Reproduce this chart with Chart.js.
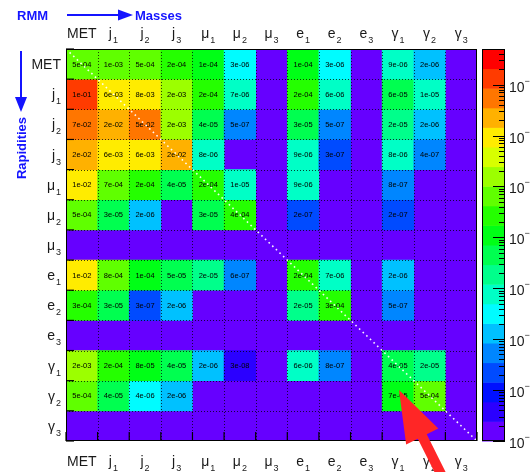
<!DOCTYPE html>
<html>
<head>
<meta charset="utf-8">
<script src="https://cdn.jsdelivr.net/npm/chart.js@4.4.1/dist/chart.umd.min.js"></script>
<style>
  html, body { margin: 0; padding: 0; background: #fff; overflow: hidden; }
  #wrap { width: 530px; height: 472px; position: relative; }
</style>
</head>
<body>
<div id="wrap"><canvas id="rmm" width="530" height="472"></canvas></div>
<script>
// Object names (letter + index) used on both axes of the rapidity-mass matrix
const objectNames = ['MET', 'j', 'j', 'j', 'μ', 'μ', 'μ', 'e', 'e', 'e', 'γ', 'γ', 'γ'];
const objectIndex = ['', '1', '2', '3', '1', '2', '3', '1', '2', '3', '1', '2', '3'];

// Matrix rows (0 = empty cell), columns in the same order as objectNames
const rowMET = [5e-4, 1e-3, 5e-4, 2e-4, 1e-4, 3e-6, 0, 1e-4, 3e-6, 0, 9e-6, 2e-6, 0];
const rowJ1  = [1e-1, 6e-3, 8e-3, 2e-3, 2e-4, 7e-6, 0, 2e-4, 6e-6, 0, 6e-5, 1e-5, 0];
const rowJ2  = [7e-2, 2e-2, 5e-2, 2e-3, 4e-5, 5e-7, 0, 3e-5, 5e-7, 0, 2e-5, 2e-6, 0];
const rowJ3  = [2e-2, 6e-3, 6e-3, 2e-2, 8e-6, 0, 0, 9e-6, 3e-7, 0, 8e-6, 4e-7, 0];
const rowMu1 = [1e-2, 7e-4, 2e-4, 4e-5, 2e-4, 1e-5, 0, 9e-6, 0, 0, 8e-7, 0, 0];
const rowMu2 = [5e-4, 3e-5, 2e-6, 0, 3e-5, 4e-4, 0, 2e-7, 0, 0, 2e-7, 0, 0];
const rowMu3 = [0, 0, 0, 0, 0, 0, 0, 0, 0, 0, 0, 0, 0];
const rowE1  = [1e-2, 8e-4, 1e-4, 5e-5, 2e-5, 6e-7, 0, 2e-4, 7e-6, 0, 2e-6, 0, 0];
const rowE2  = [3e-4, 3e-5, 3e-7, 2e-6, 0, 0, 0, 2e-5, 3e-4, 0, 5e-7, 0, 0];
const rowE3  = [0, 0, 0, 0, 0, 0, 0, 0, 0, 0, 0, 0, 0];
const rowG1  = [2e-3, 2e-4, 8e-5, 4e-5, 2e-6, 3e-8, 0, 6e-6, 8e-7, 0, 4e-5, 2e-5, 0];
const rowG2  = [5e-4, 4e-5, 4e-6, 2e-6, 0, 0, 0, 0, 0, 0, 7.4e-5, 5e-4, 0];
const rowG3  = [0, 0, 0, 0, 0, 0, 0, 0, 0, 0, 0, 0, 0];

const rows = [rowMET, rowJ1, rowJ2, rowJ3, rowMu1, rowMu2, rowMu3,
              rowE1, rowE2, rowE3, rowG1, rowG2, rowG3];

// Colour axis range (log scale) and number of palette bands
const Z_MIN = 1e-8;
const Z_MAX = 0.5;
const N_BANDS = 20;
const colourTickExponents = [-8, -7, -6, -5, -4, -3, -2, -1];

const categories = objectNames.map((n, i) => n + objectIndex[i]);

// Rainbow palette: violet (low) -> red (high)
const palette = Array.from({ length: N_BANDS }, (_, i) =>
  `hsl(${(264 * (1 - i / (N_BANDS - 1))).toFixed(1)}, 100%, 50%)`);

function bandOf(v) {
  const lo = Math.log10(Z_MIN), hi = Math.log10(Z_MAX);
  const t = (Math.log10(v) - lo) / (hi - lo);
  return Math.max(0, Math.min(N_BANDS - 1, Math.floor(t * N_BANDS)));
}
function colourFor(v) { return v > 0 ? palette[bandOf(v)] : 'rgba(0,0,0,0)'; }
function fmt(v) {
  const [m, e] = v.toExponential(0).split('e');
  const n = parseInt(e, 10);
  return m + 'e' + (n < 0 ? '-' : '+') + String(Math.abs(n)).padStart(2, '0');
}

const BLUE = '#1414ff';
const FONT = "'Liberation Sans', 'DejaVu Sans', sans-serif";

// Label with a small lowered index; align = 'center' | 'right'
function drawIndexed(ctx, name, idx, x, y, align, size) {
  ctx.font = `${size}px ${FONT}`;
  const w1 = ctx.measureText(name).width;
  ctx.font = `${Math.round(size * 0.62)}px ${FONT}`;
  const w2 = idx ? ctx.measureText(idx).width + 1 : 0;
  const total = w1 + w2;
  const x0 = align === 'center' ? x - total / 2 : x - total;
  ctx.textAlign = 'left';
  ctx.textBaseline = 'alphabetic';
  ctx.font = `${size}px ${FONT}`;
  ctx.fillText(name, x0, y);
  if (idx) {
    ctx.font = `${Math.round(size * 0.62)}px ${FONT}`;
    ctx.fillText(idx, x0 + w1 + 1, y + 5);
  }
}

const matrixPlugin = {
  id: 'matrixDecor',
  beforeDatasetsDraw(chart) {
    const { ctx, chartArea: a } = chart;
    ctx.save();
    ctx.fillStyle = palette[0];
    ctx.fillRect(a.left, a.top, a.right - a.left, a.bottom - a.top);
    ctx.restore();
  },
  afterDatasetsDraw(chart) {
    const { ctx, chartArea: a, scales } = chart;
    const xs = scales.x, ys = scales.y;
    ctx.save();

    // dotted grid at cell boundaries
    ctx.strokeStyle = 'rgba(0,0,0,0.75)';
    ctx.lineWidth = 1;
    ctx.setLineDash([1, 2]);
    for (let i = 1; i < categories.length; i++) {
      const x = Math.round((xs.getPixelForValue(i - 1) + xs.getPixelForValue(i)) / 2) + 0.5;
      ctx.beginPath(); ctx.moveTo(x, a.top); ctx.lineTo(x, a.bottom); ctx.stroke();
      const y = Math.round(ys.getPixelForValue(i)) + 0.5;
      ctx.beginPath(); ctx.moveTo(a.left, y); ctx.lineTo(a.right, y); ctx.stroke();
    }

    // cell values
    ctx.setLineDash([]);
    ctx.fillStyle = '#000';
    ctx.font = `7.5px ${FONT}`;
    ctx.textAlign = 'center';
    ctx.textBaseline = 'middle';
    rows.forEach((vals, r) => {
      const meta = chart.getDatasetMeta(r);
      vals.forEach((v, c) => {
        if (!(v > 0)) return;
        const el = meta.data[c];
        ctx.fillText(fmt(v), el.x, (el.y + el.base) / 2 + 0.5);
      });
    });

    // diagonal
    ctx.strokeStyle = 'rgba(255,255,255,0.95)';
    ctx.lineWidth = 1.6;
    ctx.setLineDash([1.6, 3.4]);
    ctx.beginPath(); ctx.moveTo(a.left, a.top); ctx.lineTo(a.right, a.bottom); ctx.stroke();
    ctx.setLineDash([]);

    // frame and bin-edge ticks
    ctx.strokeStyle = '#000';
    ctx.lineWidth = 1;
    ctx.strokeRect(a.left + 0.5, a.top + 0.5, a.right - a.left - 1, a.bottom - a.top - 1);
    ctx.lineWidth = 1.2;
    for (let i = 0; i <= categories.length; i++) {
      const x = i === 0 ? a.left : i === categories.length ? a.right :
        (xs.getPixelForValue(i - 1) + xs.getPixelForValue(i)) / 2;
      ctx.beginPath(); ctx.moveTo(x, a.bottom); ctx.lineTo(x, a.bottom - 9); ctx.stroke();
      const y = ys.getPixelForValue(i);
      ctx.beginPath(); ctx.moveTo(a.left, y); ctx.lineTo(a.left + 8, y); ctx.stroke();
    }
    ctx.restore();
  },
  afterDraw(chart) {
    const { ctx, chartArea: a, scales } = chart;
    const xs = scales.x, ys = scales.y, zs = scales.z;
    ctx.save();

    // axis labels
    ctx.fillStyle = '#1a1a1a';
    categories.forEach((_, i) => {
      const cx = xs.getPixelForValue(i);
      drawIndexed(ctx, objectNames[i], objectIndex[i], cx, 38, 'center', 14);
      drawIndexed(ctx, objectNames[i], objectIndex[i], cx, 466, 'center', 14);
      const cy = (ys.getPixelForValue(i) + ys.getPixelForValue(i + 1)) / 2;
      drawIndexed(ctx, objectNames[i], objectIndex[i], 61, cy + 5, 'right', 14);
    });

    // colour bar
    const bx0 = 482, bx1 = 505;
    const lo = Math.log10(Z_MIN), hi = Math.log10(Z_MAX);
    for (let k = 0; k < N_BANDS; k++) {
      const yb = zs.getPixelForValue(Math.pow(10, lo + (hi - lo) * k / N_BANDS));
      const yt = zs.getPixelForValue(Math.pow(10, lo + (hi - lo) * (k + 1) / N_BANDS));
      ctx.fillStyle = palette[k];
      ctx.fillRect(bx0, yt, bx1 - bx0, yb - yt + 0.5);
    }
    ctx.strokeStyle = '#000';
    ctx.lineWidth = 1;
    ctx.strokeRect(bx0 + 0.5, zs.getPixelForValue(Z_MAX) + 0.5, bx1 - bx0 - 1,
      zs.getPixelForValue(Z_MIN) - zs.getPixelForValue(Z_MAX) - 1);
    for (let e = -8; e <= 0; e++) {
      for (let m = 1; m <= 9; m++) {
        const v = m * Math.pow(10, e);
        if (v < Z_MIN || v > Z_MAX) continue;
        const y = Math.round(zs.getPixelForValue(v)) + 0.5;
        const len = m === 1 ? 12 : 6;
        ctx.beginPath(); ctx.moveTo(bx1, y); ctx.lineTo(bx1 - len, y); ctx.stroke();
      }
    }
    ctx.fillStyle = '#1a1a1a';
    ctx.textBaseline = 'alphabetic';
    colourTickExponents.forEach(e => {
      const y = zs.getPixelForValue(Math.pow(10, e));
      ctx.font = `14px ${FONT}`;
      ctx.textAlign = 'left';
      ctx.fillText('10', 509, y + 7);
      const w = ctx.measureText('10').width;
      ctx.font = `9px ${FONT}`;
      ctx.fillText('\u2212' + Math.abs(e), 509 + w, y - 1);
    });

    // titles with arrows
    ctx.fillStyle = BLUE;
    ctx.strokeStyle = BLUE;
    ctx.font = `bold 13px ${FONT}`;
    ctx.textAlign = 'left';
    ctx.fillText('RMM', 17, 20);
    ctx.fillText('Masses', 135, 20);
    ctx.lineWidth = 2;
    ctx.beginPath(); ctx.moveTo(67, 15); ctx.lineTo(121, 15); ctx.stroke();
    ctx.beginPath(); ctx.moveTo(118, 9.5); ctx.lineTo(133, 15); ctx.lineTo(118, 20.5); ctx.closePath(); ctx.fill();
    ctx.beginPath(); ctx.moveTo(21, 51); ctx.lineTo(21, 100); ctx.stroke();
    ctx.beginPath(); ctx.moveTo(15, 97); ctx.lineTo(21, 112); ctx.lineTo(27, 97); ctx.closePath(); ctx.fill();
    ctx.save();
    ctx.translate(26, 148);
    ctx.rotate(-Math.PI / 2);
    ctx.textAlign = 'center';
    ctx.fillText('Rapidities', 0, 0);
    ctx.restore();

    // red pointer arrow
    const tip = [399, 390], tail = [449, 490];
    const dx = tail[0] - tip[0], dy = tail[1] - tip[1];
    const L = Math.hypot(dx, dy), ux = dx / L, uy = dy / L, px = -uy, py = ux;
    const hb = [tip[0] + 52 * ux, tip[1] + 52 * uy];
    ctx.fillStyle = '#ff2626';
    ctx.beginPath();
    ctx.moveTo(tip[0], tip[1]);
    ctx.lineTo(hb[0] + 18 * px, hb[1] + 18 * py);
    ctx.lineTo(hb[0] + 5 * px, hb[1] + 5 * py);
    ctx.lineTo(tail[0] + 5 * px, tail[1] + 5 * py);
    ctx.lineTo(tail[0] - 5 * px, tail[1] - 5 * py);
    ctx.lineTo(hb[0] - 5 * px, hb[1] - 5 * py);
    ctx.lineTo(hb[0] - 18 * px, hb[1] - 18 * py);
    ctx.closePath();
    ctx.fill();
    ctx.restore();
  }
};

new Chart(document.getElementById('rmm'), {
  type: 'bar',
  data: {
    labels: categories,
    datasets: rows.map((vals, r) => ({
      label: categories[r],
      data: vals.map(v => (v > 0 ? [r, r + 1] : null)),
      backgroundColor: vals.map(colourFor),
      borderWidth: 0,
      grouped: false,
      barPercentage: 1,
      categoryPercentage: 1
    }))
  },
  options: {
    responsive: false,
    devicePixelRatio: 1,
    animation: false,
    layout: { padding: { left: 66, top: 49, right: 53, bottom: 31 } },
    plugins: { legend: { display: false }, tooltip: { enabled: false } },
    scales: {
      x: { type: 'category', offset: true, display: false },
      y: { type: 'linear', min: 0, max: rows.length, reverse: true, display: false },
      z: { type: 'logarithmic', position: 'right', min: Z_MIN, max: Z_MAX, display: false }
    }
  },
  plugins: [matrixPlugin]
});
</script>
</body>
</html>
